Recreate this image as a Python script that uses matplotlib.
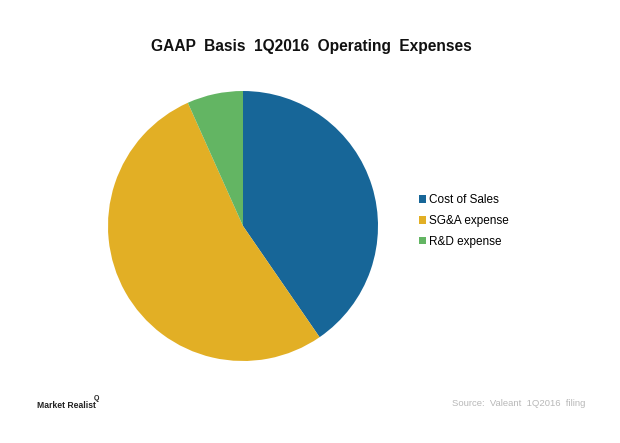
import matplotlib.pyplot as plt
from matplotlib.patches import Patch

# Valeant 1Q2016 operating expenses (share of total, %)
categories = ['Cost of Sales', 'SG&A expense', 'R&D expense']
values = [40.4, 52.9, 6.7]
colors = ['#176698', '#E2AF25', '#63B563']

plt.rcParams['font.family'] = ['Liberation Sans', 'DejaVu Sans']

fig = plt.figure(figsize=(6.2, 4.43), dpi=100)
ax = fig.add_axes([108 / 620, 1 - 361 / 443, 270 / 620, 270 / 443])
ax.pie(values, colors=colors, startangle=90, counterclock=False,
       wedgeprops={'linewidth': 0})
ax.set_xlim(-1, 1)
ax.set_ylim(-1, 1)
ax.set_aspect('equal')

fig.text(311 / 620, 1 - 47 / 443, 'GAAP  Basis  1Q2016  Operating  Expenses',
         ha='center', va='center', fontsize=11.2, fontweight='bold', color='#111111')

handles = [Patch(facecolor=c, edgecolor='none') for c in colors]
fig.legend(handles, categories, loc='center left',
           bbox_to_anchor=(408 / 620, 1 - 221 / 443), frameon=False,
           fontsize=8.5, handlelength=0.6, handleheight=0.6,
           handletextpad=0.3, labelspacing=0.75)

# footer: logo text and source
fig.text(37 / 620, 1 - 406 / 443, 'Market Realist', ha='left', va='center',
         fontsize=6.2, color='#222222', fontweight='bold')
fig.text(94 / 620, 1 - 398 / 443, 'Q', ha='left', va='center',
         fontsize=5, color='#222222', fontweight='bold')
fig.text(585 / 620, 1 - 403 / 443, 'Source:  Valeant  1Q2016  filing',
         ha='right', va='center', fontsize=6.8, color='#B8B8B8')

fig.savefig('out.png', dpi=100)
